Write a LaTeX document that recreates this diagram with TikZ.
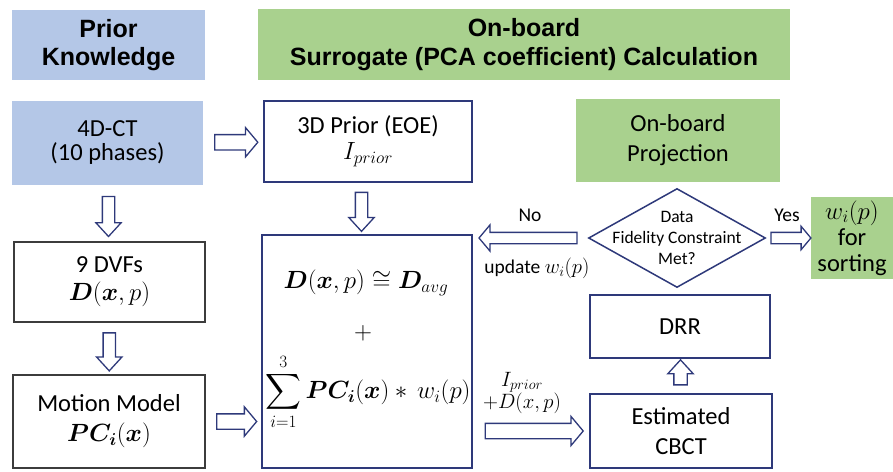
\documentclass[tikz,border=0pt]{standalone}
\usepackage{fontspec}
\setmainfont{Carlito}
\newfontfamily\headfont{Liberation Sans}
\usepackage{amsmath,bm}
\usetikzlibrary{shapes.arrows,shapes.geometric,calc}

\definecolor{navy}{RGB}{46,57,122}
\definecolor{hblue}{RGB}{180,199,231}
\definecolor{hgreen}{RGB}{169,209,142}
\definecolor{edgegrey}{RGB}{60,60,60}

\tikzset{
  header/.style={fill=hblue, inner sep=0pt, align=center,
    font=\headfont\bfseries\fontsize{25}{28.5}\selectfont},
  plainbox/.style={inner sep=0pt, align=center,
    font=\fontsize{24.5}{30}\selectfont},
  navybox/.style={plainbox, draw=navy, line width=2pt, fill=white},
  greybox/.style={plainbox, draw=edgegrey, line width=1.8pt, fill=white},
  bluebox/.style={plainbox, fill=hblue},
  greenbox/.style={plainbox, fill=hgreen},
  hfat/.style={single arrow, draw=navy, fill=white, line width=1.3pt,
    inner xsep=0pt, inner ysep=7pt, single arrow head extend=7pt,
    single arrow tip angle=100, single arrow head indent=0pt},
  vfat/.style={single arrow, draw=navy, fill=white, line width=1.3pt,
    inner ysep=0pt, inner xsep=5.5pt, single arrow head extend=6.5pt,
    single arrow tip angle=85, single arrow head indent=0pt},
  lbl/.style={inner sep=0pt, font=\fontsize{19.5}{23}\selectfont},
  mth/.style={inner sep=0pt, font=\fontsize{24}{28}\selectfont},
}

\begin{document}
\begin{tikzpicture}[x=1pt,y=-1pt]
\useasboundingbox (0,0) rectangle (893,471);

% column headers
\node[header, minimum width=193, minimum height=70] (hprior) at (108.5,45)
  {Prior\\Knowledge};
\node[header, fill=hgreen, minimum width=532, minimum height=71] (hboard) at (524,44.5)
  {On-board\\Surrogate (PCA coefficient) Calculation};

% prior knowledge column
\node[bluebox, minimum width=191, minimum height=84] (fourd) at (107.5,143)
  {4D-CT\\[-6pt](10 phases)};
\node[greybox, minimum width=191, minimum height=80] (dvf) at (109.5,282)
  {9 DVFs\\[-2pt]{\fontsize{24.5}{30}\selectfont$\bm{D}(\bm{x},p)$}};
\node[greybox, minimum width=192, minimum height=93] (motion) at (109,421.5)
  {Motion Model\\[0pt]{\fontsize{26}{30}\selectfont$\bm{P}\bm{C}_{\bm{i}}(\bm{x})$}};

% surrogate calculation column
\node[navybox, minimum width=208, minimum height=81] (prior3d) at (368,141.5)
  {3D Prior (EOE)\\[-4pt]{\fontsize{25}{30}\selectfont$I_{prior}$}};
\node[navybox, minimum width=210, minimum height=233] (model) at (367,351.5) {};
\node[mth] (eqa) at (366,283)
  {$\bm{D}(\bm{x},p)\cong\bm{D}_{avg}$};
\node[mth] (eqplus) at (363,333) {$+$};
\node[mth, font=\fontsize{23.5}{27}\selectfont] (eqsum) at (368,392)
  {$\displaystyle\sum_{i=1}^{3}\bm{P}\bm{C}_{\bm{i}}(\bm{x})\ast\,w_i(p)$};

% on-board projection column
\node[greenbox, minimum width=204, minimum height=83] (proj) at (678,140.5)
  {On-board\\Projection};
\node[diamond, draw=navy, line width=1.5pt, fill=white, inner sep=0pt,
  minimum width=177, minimum height=99] (dia) at (677,238) {};
\node[align=center, inner sep=0pt, font=\fontsize{17.5}{21}\selectfont] (diatext) at (dia.center)
  {Data\\Fidelity Constraint\\Met?};
\node[greenbox, minimum width=82, minimum height=82] (wbox) at (852,238)
  {{\fontsize{26}{30}\selectfont$w_i(p)$}\\[-4pt]for\\[-4pt]sorting};
\node[navybox, minimum width=180, minimum height=63] (drr) at (680,326.5) {DRR};
\node[navybox, minimum width=182, minimum height=74] (cbct) at (681,431)
  {Estimated\\CBCT};

% block arrows between the stages
\path (fourd.east) -- (prior3d.west)
  node[hfat, midway, minimum height=43] (a1) {};
\path (fourd.south) -- (dvf.north)
  node[vfat, midway, minimum height=40, shape border rotate=270] (a2) {};
\path ([xshift=-6pt]prior3d.south) -- ([xshift=-6pt]model.north)
  node[vfat, midway, minimum height=39, shape border rotate=270] (a3) {};
\path (dvf.south) -- (motion.north)
  node[vfat, midway, minimum height=38, shape border rotate=270] (a4) {};
\path (motion.east) -- (motion.east -| model.west)
  node[hfat, midway, minimum height=40] (a5) {};
\path (cbct.west -| model.east) -- (cbct.west)
  node[hfat, midway, minimum height=98] (a6) {};
\path (dia.west) -- (dia.west -| model.east)
  node[hfat, midway, minimum height=98, shape border rotate=180,
    inner ysep=5pt, single arrow head extend=7.5pt] (a7) {};
\path (dia.east) -- (wbox.west)
  node[hfat, midway, minimum height=40, inner ysep=5pt,
    single arrow head extend=6pt] (a8) {};
\path (cbct.north) -- (drr.south)
  node[vfat, midway, minimum height=25, shape border rotate=90,
    inner xsep=6pt, single arrow head extend=6pt] (a9) {};

% arrow labels
\node[lbl] (lno) at (530,215) {No};
\node[lbl] (lyes) at (787,215) {Yes};
\node[lbl] (lupd) at (537,268) {update {\fontsize{22}{26}\selectfont$w_i(p)$}};
\node[lbl, align=center, font=\fontsize{22}{22}\selectfont] (lip) at (522,393)
  {$I_{prior}$\\$+D(x,p)$};
\end{tikzpicture}
\end{document}
